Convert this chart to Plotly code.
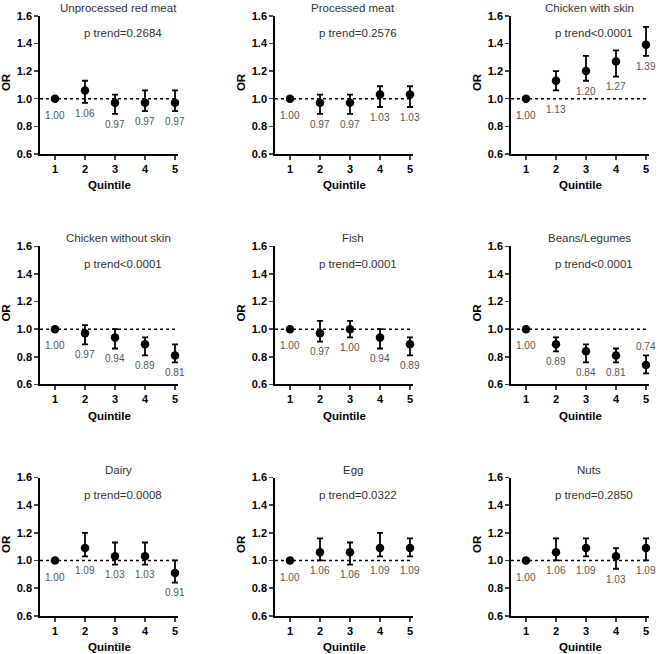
import plotly.graph_objects as go

# ---------------- data ----------------
panel_titles = ["Unprocessed red meat", "Processed meat", "Chicken with skin",
                "Chicken without skin", "Fish", "Beans/Legumes",
                "Dairy", "Egg", "Nuts"]
p_trend = ["p trend=0.2684", "p trend=0.2576", "p trend<0.0001",
           "p trend<0.0001", "p trend=0.0001", "p trend<0.0001",
           "p trend=0.0008", "p trend=0.0322", "p trend=0.2850"]
quintiles = [1, 2, 3, 4, 5]
y_ticks = [0.6, 0.8, 1.0, 1.2, 1.4, 1.6]

or_unprocessed = [1.00, 1.06, 0.97, 0.97, 0.97]
lo_unprocessed = [1.00, 0.97, 0.89, 0.91, 0.91]
hi_unprocessed = [1.00, 1.13, 1.03, 1.06, 1.06]

or_processed = [1.00, 0.97, 0.97, 1.03, 1.03]
lo_processed = [1.00, 0.89, 0.89, 0.94, 0.94]
hi_processed = [1.00, 1.03, 1.03, 1.09, 1.09]

or_chicken_skin = [1.00, 1.13, 1.20, 1.27, 1.39]
lo_chicken_skin = [1.00, 1.06, 1.13, 1.16, 1.31]
hi_chicken_skin = [1.00, 1.20, 1.31, 1.35, 1.52]

or_chicken_noskin = [1.00, 0.97, 0.94, 0.89, 0.81]
lo_chicken_noskin = [1.00, 0.89, 0.86, 0.81, 0.76]
hi_chicken_noskin = [1.00, 1.03, 1.00, 0.94, 0.89]

or_fish = [1.00, 0.97, 1.00, 0.94, 0.89]
lo_fish = [1.00, 0.91, 0.94, 0.86, 0.81]
hi_fish = [1.00, 1.06, 1.06, 1.00, 0.94]

or_beans = [1.00, 0.89, 0.84, 0.81, 0.74]
lo_beans = [1.00, 0.84, 0.76, 0.76, 0.68]
hi_beans = [1.00, 0.94, 0.89, 0.86, 0.81]

or_dairy = [1.00, 1.09, 1.03, 1.03, 0.91]
lo_dairy = [1.00, 1.03, 0.97, 0.97, 0.84]
hi_dairy = [1.00, 1.20, 1.13, 1.13, 1.00]

or_egg = [1.00, 1.06, 1.06, 1.09, 1.09]
lo_egg = [1.00, 1.00, 0.97, 1.03, 1.03]
hi_egg = [1.00, 1.16, 1.13, 1.20, 1.16]

or_nuts = [1.00, 1.06, 1.09, 1.03, 1.09]
lo_nuts = [1.00, 1.00, 1.03, 0.94, 1.00]
hi_nuts = [1.00, 1.16, 1.16, 1.09, 1.16]

series = [
    (or_unprocessed, lo_unprocessed, hi_unprocessed),
    (or_processed, lo_processed, hi_processed),
    (or_chicken_skin, lo_chicken_skin, hi_chicken_skin),
    (or_chicken_noskin, lo_chicken_noskin, hi_chicken_noskin),
    (or_fish, lo_fish, hi_fish),
    (or_beans, lo_beans, hi_beans),
    (or_dairy, lo_dairy, hi_dairy),
    (or_egg, lo_egg, hi_egg),
    (or_nuts, lo_nuts, hi_nuts),
]

# ---------------- layout ----------------
W, H = 658, 654
col_left = [40, 275, 511]
col_w = 138
row_top = [10, 244.8, 480.4]
row_h = 140.7

FONT = "Liberation Sans, Arial, sans-serif"

fig = go.Figure()
annotations = []
shapes = []

for i, (vals, lo, hi) in enumerate(series):
    r, c = divmod(i, 3)
    n = i + 1
    xa = "x" if n == 1 else f"x{n}"
    ya = "y" if n == 1 else f"y{n}"
    xkey = "xaxis" if n == 1 else f"xaxis{n}"
    ykey = "yaxis" if n == 1 else f"yaxis{n}"

    x0 = col_left[c] / W
    x1 = (col_left[c] + col_w) / W
    y1 = 1 - row_top[r] / H
    y0 = 1 - (row_top[r] + row_h) / H

    fig.add_trace(go.Scatter(
        x=quintiles, y=vals, mode="markers",
        marker=dict(color="black", size=8.5),
        error_y=dict(type="data", symmetric=False,
                     array=[h - v for h, v in zip(hi, vals)],
                     arrayminus=[v - l for v, l in zip(vals, lo)],
                     color="black", thickness=1.8, width=3),
        xaxis=xa, yaxis=ya, showlegend=False, cliponaxis=False,
        hoverinfo="skip",
    ))

    fig.layout[xkey] = dict(
        domain=[x0, x1], anchor=ya, range=[0.5, 5.1],
        tickvals=quintiles, ticks="outside", ticklen=4, tickwidth=1.6,
        showline=True, linecolor="black", linewidth=1.8, showgrid=False,
        zeroline=False, fixedrange=True,
        tickfont=dict(family=FONT, size=11, color="black", weight="bold"),
    )
    fig.layout[ykey] = dict(
        domain=[y0, y1], anchor=xa, range=[0.6, 1.6],
        tickvals=y_ticks, tickformat=".1f", ticks="outside", ticklen=4,
        tickwidth=1.6, showline=True, linecolor="black", linewidth=1.8,
        showgrid=False, zeroline=False, fixedrange=True,
        tickfont=dict(family=FONT, size=11, color="black", weight="bold"),
    )

    # reference line at OR = 1
    shapes.append(dict(type="line", xref=f"{xa} domain", yref=ya,
                       x0=0, x1=1, y0=1.0, y1=1.0,
                       line=dict(color="black", width=1.5, dash="dot"),
                       layer="below"))

    # title and p trend
    annotations.append(dict(text=panel_titles[i], xref=xa, yref=f"{ya} domain",
                            x=3.1, y=1, yshift=8, showarrow=False,
                            xanchor="center", yanchor="middle",
                            font=dict(family=FONT, size=11.5, color="#333333")))
    annotations.append(dict(text=p_trend[i], xref=xa, yref=f"{ya} domain",
                            x=3.25, y=1, yshift=-17.5, showarrow=False,
                            xanchor="center", yanchor="middle",
                            font=dict(family=FONT, size=11.5, color="#333333")))
    # axis titles
    annotations.append(dict(text="<b>Quintile</b>", xref=f"{xa} domain",
                            yref=f"{ya} domain", x=0.5, y=0, yshift=-31.5,
                            showarrow=False, xanchor="center", yanchor="middle",
                            font=dict(family=FONT, size=11.5, color="black")))
    annotations.append(dict(text="<b>OR</b>", xref=f"{xa} domain",
                            yref=f"{ya} domain", x=0, y=0.52, xshift=-34,
                            textangle=-90, showarrow=False,
                            xanchor="center", yanchor="middle",
                            font=dict(family=FONT, size=11.5, color="black")))
    # value labels
    for q, v, l, h in zip(quintiles, vals, lo, hi):
        if l == h:
            ly = v - 0.12
        else:
            ly = l - 0.075
            if ly < 0.66:
                ly = h + 0.065
            elif 0.94 < ly < 1.04:
                ly = 0.925
        annotations.append(dict(text=f"{v:.2f}", xref=xa, yref=ya,
                                x=q, y=ly, showarrow=False,
                                xanchor="center", yanchor="middle",
                                font=dict(family=FONT, size=10, color="#555555")))

fig.update_layout(
    width=W, height=H, margin=dict(l=0, r=0, t=0, b=0),
    paper_bgcolor="white", plot_bgcolor="white",
    annotations=annotations, shapes=shapes,
)

fig.write_html(
    "out.html",
    config={"displayModeBar": False, "staticPlot": True},
    post_script=(
        "document.body.style.margin='0';"
        "document.body.style.overflow='hidden';"
        "var d=document.getElementById('{plot_id}');"
        "d.style.position='fixed';d.style.top='0px';d.style.left='0px';"
    ),
)
